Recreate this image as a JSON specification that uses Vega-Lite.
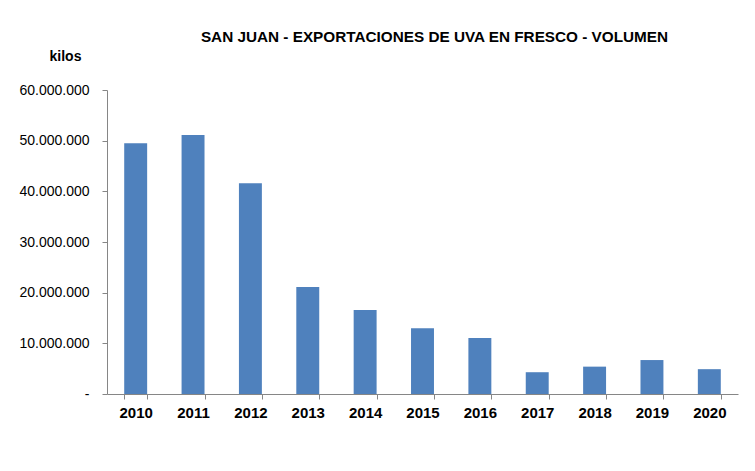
{
  "$schema": "https://vega.github.io/schema/vega-lite/v6.json",
  "width": 631,
  "height": 304,
  "autosize": {"type": "none"},
  "padding": {"left": 107, "top": 90, "right": 17, "bottom": 77},
  "background": "white",
  "title": {
    "text": "SAN JUAN - EXPORTACIONES DE UVA EN FRESCO - VOLUMEN",
    "font": "Liberation Sans",
    "fontSize": 15.3,
    "fontWeight": "bold",
    "color": "#000000",
    "anchor": "middle",
    "dx": 12,
    "offset": 4
  },
  "data": {
    "values": [
      {"anio": "2010", "kilos": 49500000},
      {"anio": "2011", "kilos": 51100000},
      {"anio": "2012", "kilos": 41600000},
      {"anio": "2013", "kilos": 21100000},
      {"anio": "2014", "kilos": 16600000},
      {"anio": "2015", "kilos": 13000000},
      {"anio": "2016", "kilos": 11050000},
      {"anio": "2017", "kilos": 4300000},
      {"anio": "2018", "kilos": 5400000},
      {"anio": "2019", "kilos": 6700000},
      {"anio": "2020", "kilos": 4900000}
    ]
  },
  "mark": {"type": "bar", "color": "#4F81BD"},
  "encoding": {
    "x": {
      "field": "anio",
      "type": "ordinal",
      "scale": {"paddingInner": 0.6, "paddingOuter": 0.3},
      "axis": {
        "title": null,
        "labelAngle": 0,
        "labelFont": "Liberation Sans",
        "labelFontSize": 15,
        "labelFontWeight": "bold",
        "labelColor": "#000000",
        "labelPadding": 6,
        "domainColor": "#868686",
        "tickColor": "#868686",
        "tickBand": "extent",
        "tickSize": 5
      }
    },
    "y": {
      "field": "kilos",
      "type": "quantitative",
      "scale": {"domain": [0, 60000000], "nice": false},
      "axis": {
        "title": "kilos",
        "titleAngle": 0,
        "titleAlign": "center",
        "titleBaseline": "alphabetic",
        "titleX": -42,
        "titleY": -30,
        "titleFont": "Liberation Sans",
        "titleFontSize": 14,
        "titleFontWeight": "bold",
        "titleColor": "#000000",
        "values": [0, 10000000, 20000000, 30000000, 40000000, 50000000, 60000000],
        "format": ",d",
        "labelExpr": "datum.value === 0 ? '-' : datum.label",
        "labelFont": "Liberation Sans",
        "labelFontSize": 14,
        "labelColor": "#000000",
        "labelPadding": 13,
        "grid": false,
        "domainColor": "#868686",
        "tickColor": "#868686",
        "tickSize": 5
      }
    }
  },
  "config": {
    "view": {"stroke": null},
    "locale": {
      "number": {"decimal": ",", "thousands": ".", "grouping": [3], "currency": ["$", ""]}
    }
  }
}
